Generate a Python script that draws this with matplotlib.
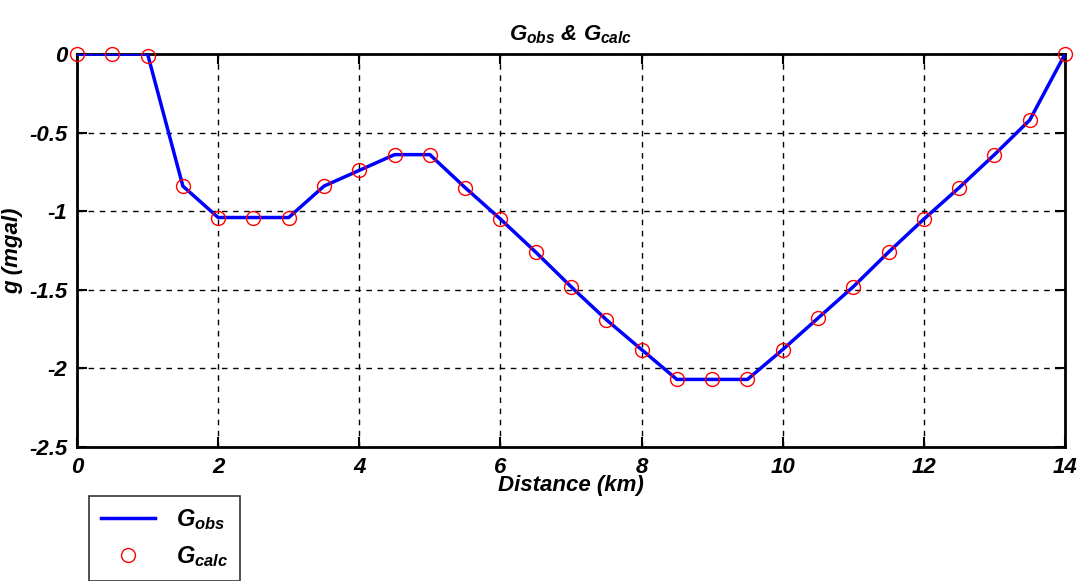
import numpy as np
import matplotlib
matplotlib.use("Agg")
import matplotlib.pyplot as plt

# profile positions (km) and gravity anomaly (mgal)
dist = [0, 0.5, 1.0, 1.5, 2.0, 2.5, 3.0, 3.5, 4.0, 4.5, 5.0, 5.5, 6.0, 6.5,
        7.0, 7.5, 8.0, 8.5, 9.0, 9.5, 10.0, 10.5, 11.0, 11.5, 12.0, 12.5,
        13.0, 13.5, 14.0]
g_obs = [0, 0, 0, -0.84, -1.04, -1.04, -1.04, -0.84, -0.74, -0.64, -0.64,
         -0.85, -1.05, -1.26, -1.48, -1.69, -1.88, -2.07, -2.07, -2.07,
         -1.88, -1.68, -1.48, -1.26, -1.05, -0.85, -0.64, -0.42, 0]
g_calc = [0, 0, -0.01, -0.84, -1.04, -1.04, -1.04, -0.84, -0.74, -0.64, -0.64,
          -0.85, -1.05, -1.26, -1.48, -1.69, -1.88, -2.07, -2.07, -2.07,
          -1.88, -1.68, -1.48, -1.26, -1.05, -0.85, -0.64, -0.42, 0]
xticks = [0, 2, 4, 6, 8, 10, 12, 14]
yticks = [0, -0.5, -1, -1.5, -2, -2.5]

plt.rcParams["font.family"] = ["Liberation Sans", "DejaVu Sans"]
plt.rcParams["font.weight"] = "bold"
plt.rcParams["font.style"] = "italic"
plt.rcParams["mathtext.fontset"] = "custom"
plt.rcParams["mathtext.it"] = "Liberation Sans:bold:italic"
plt.rcParams["mathtext.rm"] = "Liberation Sans:bold:italic"

fig = plt.figure(figsize=(10.83, 5.81), dpi=100)
ax = fig.add_axes([0.0711, 0.2306, 0.9123, 0.6764])

ax.plot(dist, g_obs, c="#0000ff", lw=2.5, label="$G_{obs}$", zorder=3)
ax.plot(dist, g_calc, "o", ms=10, mfc="none", mec="#ff0000", mew=1.0,
        label="$G_{calc}$", zorder=4, clip_on=False)

ax.set_xlim(0, 14); ax.set_ylim(-2.5, 0)
ax.set_xticks(xticks); ax.set_yticks(yticks)
ax.set_yticklabels(["0", "-0.5", "-1", "-1.5", "-2", "-2.5"])
ax.grid(True, c="k", ls=(0, (4, 4)), lw=1)
ax.tick_params(direction="in", length=7, width=1.5, top=True, right=True,
               labelsize=16, pad=7)
for s in ax.spines.values():
    s.set_linewidth(2)

ax.set_title("$G_{obs}$ & $G_{calc}$", fontsize=16, fontweight="bold", pad=10)
ax.set_xlabel("Distance (km)", fontsize=16, fontweight="bold", labelpad=-2)
ax.set_ylabel("g (mgal)", fontsize=16, fontweight="bold", labelpad=4)

leg = fig.legend(loc="lower left", bbox_to_anchor=(0.082, 0.0), fontsize=17,
                 frameon=True, fancybox=False, edgecolor="k", handlelength=2.3,
                 borderpad=0.5, labelspacing=0.5, handletextpad=0.9,
                 borderaxespad=0)
leg.get_frame().set_linewidth(1.2)

fig.savefig("out.png", dpi=100)
